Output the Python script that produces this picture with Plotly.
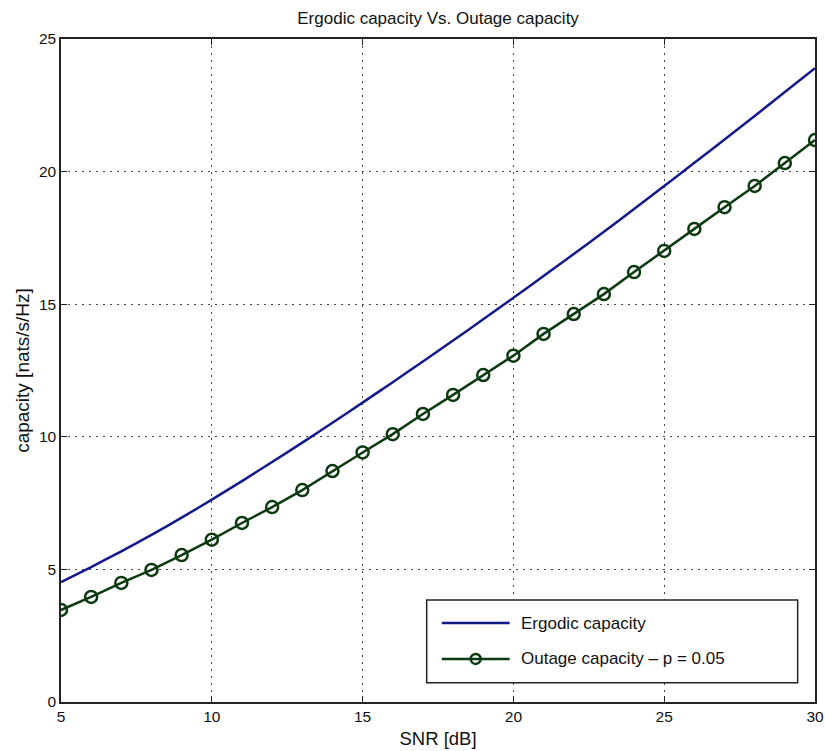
import plotly.graph_objects as go

# SNR grid [dB]
snr = list(range(5, 31))

# Ergodic capacity [nats/s/Hz]
ergodic = [4.52, 5.09, 5.68, 6.30, 6.95, 7.63, 8.33, 9.05, 9.78, 10.53,
           11.29, 12.06, 12.84, 13.63, 14.43, 15.24, 16.06, 16.89, 17.73, 18.59,
           19.46, 20.33, 21.21, 22.10, 23.00, 23.90]

# Outage capacity at p = 0.05 [nats/s/Hz]
outage = [3.47, 3.96, 4.49, 4.98, 5.54, 6.12, 6.75, 7.35, 7.99, 8.71,
          9.41, 10.10, 10.86, 11.58, 12.33, 13.06, 13.88, 14.63, 15.38, 16.21,
          17.01, 17.84, 18.66, 19.46, 20.32, 21.19]

series_names = ["Ergodic capacity", "Outage capacity \u2013 p = 0.05"]
x_ticks = [5, 10, 15, 20, 25, 30]
y_ticks = [0, 5, 10, 15, 20, 25]

BLUE = "#14198a"
GREEN = "#0b3a10"
FONT = "Liberation Sans, Arial, sans-serif"

fig = go.Figure()
fig.add_trace(go.Scatter(x=snr, y=ergodic, mode="lines", name=series_names[0],
                         line=dict(color=BLUE, width=2.5, shape="spline", smoothing=0.6),
                         showlegend=False))
fig.add_trace(go.Scatter(x=snr, y=outage, mode="lines+markers", name=series_names[1],
                         line=dict(color=GREEN, width=2.5),
                         marker=dict(symbol="circle-open", size=12, color=GREEN,
                                     line=dict(width=2.5, color=GREEN)),
                         showlegend=False))

axis_common = dict(showline=True, linecolor="#222", linewidth=1.5, mirror="ticks",
                   ticks="inside", ticklen=6, tickwidth=1.2, tickcolor="#222",
                   showgrid=True, gridcolor="#444", griddash="1.5px,5.5px", gridwidth=1.2,
                   zeroline=False, automargin=False,
                   tickfont=dict(size=15.5, color="#111", family=FONT))

fig.update_xaxes(range=[5, 30], tickvals=x_ticks,
                 title=dict(text="SNR [dB]", font=dict(size=18.5, color="#111", family=FONT),
                            standoff=8),
                 **axis_common)
fig.update_yaxes(range=[0, 25], tickvals=y_ticks,
                 title=dict(text="capacity [nats/s/Hz]", font=dict(size=19, color="#111", family=FONT),
                            standoff=4),
                 **axis_common)

# Legend box drawn in paper coordinates (lower right corner of the axes)
lx0, lx1, ly0, ly1 = 0.485, 0.977, 0.029, 0.154
row_y = [0.119, 0.065]
shapes = [dict(type="rect", xref="paper", yref="paper", x0=lx0, x1=lx1, y0=ly0, y1=ly1,
               line=dict(color="#222", width=1.5), fillcolor="white", layer="above")]
colors = [BLUE, GREEN]
for i, yy in enumerate(row_y):
    shapes.append(dict(type="line", xref="paper", yref="paper", x0=0.505, x1=0.595,
                       y0=yy, y1=yy, line=dict(color=colors[i], width=2.5), layer="above"))
shapes.append(dict(type="circle", xref="paper", yref="paper", xsizemode="pixel",
                   ysizemode="pixel", xanchor=0.55, yanchor=row_y[1],
                   x0=-5, x1=5, y0=-5, y1=5, line=dict(color=GREEN, width=2.5), layer="above"))

annotations = [dict(xref="paper", yref="paper", x=0.607, y=yy, text=series_names[i],
                    showarrow=False, xanchor="left", yanchor="middle",
                    font=dict(size=17, color="#111", family=FONT))
               for i, yy in enumerate(row_y)]

fig.update_layout(
    width=825, height=751,
    margin=dict(l=61, r=10, t=39, b=49),
    paper_bgcolor="white", plot_bgcolor="white",
    title=dict(text="Ergodic capacity Vs. Outage capacity", x=0.531, xanchor="center",
               y=0.976, yanchor="middle",
               font=dict(size=17, color="#111", family=FONT)),
    shapes=shapes, annotations=annotations,
)

fig.write_html("out.html")
